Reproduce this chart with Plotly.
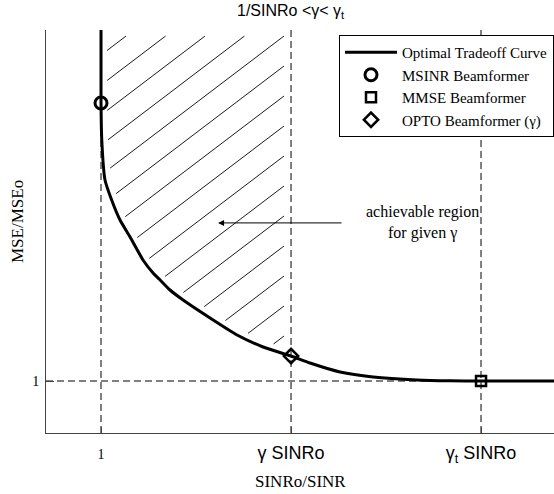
import numpy as np
import plotly.graph_objects as go

# ---------------- data ----------------
x_tick_vals = [1, 2, 3]
x_tick_text = ["1", "γ SINRo", "γ<sub>t</sub> SINRo"]
y_tick_vals = [1]
y_tick_text = ["1"]

# optimal tradeoff curve (SINRo/SINR, MSE/MSEo)
curve_x = [1.0, 1.0, 1.004, 1.021, 1.056, 1.10, 1.153, 1.221, 1.274, 1.311, 1.363,
           1.432, 1.574, 1.716, 1.853, 2.0, 2.10, 2.258, 2.432, 2.663, 2.837, 3.0, 3.40]
curve_y = [7.9, 6.346, 5.635, 4.865, 4.481, 4.096, 3.769, 3.327, 3.077, 2.942, 2.75,
           2.558, 2.212, 1.885, 1.654, 1.48, 1.346, 1.173, 1.077, 1.019, 1.003, 1.0, 1.0]

msinr_x, msinr_y = [1.0], [6.346]
mmse_x, mmse_y = [3.0], [1.0]
opto_x, opto_y = [2.0], [1.48]

# ---------------- layout geometry ----------------
W, H = 554, 494
ML, MR, MT, MB = 46, 0, 30, 61
X0, X1 = 0.7105, 3.384
Y0, Y1 = 0.0, 7.75
PW, PH = W - ML - MR, H - MT - MB
sx = PW / (X1 - X0)
sy = PH / (Y1 - Y0)

def to_px(x, y):
    return (np.asarray(x) - X0) * sx, (Y1 - np.asarray(y)) * sy

def to_data(px, py):
    return np.asarray(px) / sx + X0, Y1 - np.asarray(py) / sy

# dense curve for hatch clipping
seg_x, seg_y = [], []
for i in range(len(curve_x) - 1):
    t = np.linspace(0, 1, 200, endpoint=False)
    seg_x.append(curve_x[i] + t * (curve_x[i + 1] - curve_x[i]))
    seg_y.append(curve_y[i] + t * (curve_y[i + 1] - curve_y[i]))
dcx = np.concatenate(seg_x)
dcy = np.concatenate(seg_y)
dpx, dpy = to_px(dcx, dcy)

# hatch lines: region right of the curve, left of gamma*SINRo, below the top
slope = 0.76
spacing = 30.0
gap = 6.0
right_px = to_px(opto_x[0], 0)[0] - 7
top_px = 6.0
c0 = top_px + slope * right_px
fx = np.array(curve_x[1:])
fy = np.array(curve_y[1:])
hx, hy = [], []
for k in range(-8, 12):
    c = c0 + k * spacing
    px = np.linspace(0, right_px, 1500)
    py = c - slope * px
    xd, yd = to_data(px, py)
    inside = (py >= top_px) & (xd > 1.0) & (yd > np.interp(xd, fx, fy))
    if not inside.any():
        continue
    d = np.min(np.hypot(px[:, None] - dpx[None, ::4], py[:, None] - dpy[None, ::4]), axis=1)
    keep = inside & (d >= gap)
    if keep.sum() < 3:
        continue
    idx = np.where(keep)[0]
    a, b = idx[0], idx[-1]
    xa, ya = to_data(px[a], py[a])
    xb, yb = to_data(px[b], py[b])
    hx += [float(xa), float(xb), None]
    hy += [float(ya), float(yb), None]

SERIF = "Liberation Serif"
SANS = "Liberation Sans"
dash = "7px,4px"

fig = go.Figure()
# hatch
fig.add_trace(go.Scatter(x=hx, y=hy, mode="lines", line=dict(color="black", width=0.9),
                         showlegend=False, hoverinfo="skip"))
# dashed guide lines
fig.add_trace(go.Scatter(x=[msinr_x[0], msinr_x[0]], y=[Y0, msinr_y[0]], mode="lines",
                         line=dict(color="black", width=1, dash=dash), showlegend=False))
fig.add_trace(go.Scatter(x=[opto_x[0], opto_x[0]], y=[Y0, Y1], mode="lines",
                         line=dict(color="black", width=1, dash=dash), showlegend=False))
fig.add_trace(go.Scatter(x=[mmse_x[0], mmse_x[0]], y=[Y0, Y1], mode="lines",
                         line=dict(color="black", width=1, dash=dash), showlegend=False))
fig.add_trace(go.Scatter(x=[X0, mmse_x[0]], y=[mmse_y[0], mmse_y[0]], mode="lines",
                         line=dict(color="black", width=1, dash=dash), showlegend=False))
# curve
fig.add_trace(go.Scatter(x=curve_x, y=curve_y, mode="lines", name="Optimal Tradeoff Curve",
                         line=dict(color="black", width=3, shape="spline", smoothing=0.5)))
fig.add_trace(go.Scatter(x=msinr_x, y=msinr_y, mode="markers", name="MSINR Beamformer",
                         marker=dict(symbol="circle-open", size=12, color="black",
                                     line=dict(width=3, color="black"))))
fig.add_trace(go.Scatter(x=mmse_x, y=mmse_y, mode="markers", name="MMSE Beamformer",
                         marker=dict(symbol="square-open", size=10, color="black",
                                     line=dict(width=2.5, color="black"))))
fig.add_trace(go.Scatter(x=opto_x, y=opto_y, mode="markers", name="OPTO Beamformer (γ)",
                         marker=dict(symbol="diamond-open", size=11, color="black",
                                     line=dict(width=2.5, color="black"))))

# arrow + text
fig.add_annotation(x=1.616, y=4.04, ax=2.274, ay=4.04, xref="x", yref="y", axref="x", ayref="y",
                   text="", showarrow=True, arrowhead=2, arrowsize=1.2, arrowwidth=1, arrowcolor="black")
fig.add_annotation(x=2.69, y=4.04, xref="x", yref="y", showarrow=False,
                   text="achievable region<br>for given γ", align="center",
                   font=dict(family=SERIF, size=16, color="black"))
# title
fig.add_annotation(x=(291 - ML) / PW, y=1 + (MT - 11) / PH, xref="paper", yref="paper", showarrow=False,
                   xanchor="center", yanchor="middle",
                   text="1/SINRo &lt;γ&lt; γ<sub>t</sub>", font=dict(family=SANS, size=16, color="black"))
# axis titles
fig.add_annotation(x=(300 - ML) / PW, y=-(481 - MT - PH) / PH, xref="paper", yref="paper",
                   showarrow=False, xanchor="center", yanchor="middle", text="SINRo/SINR",
                   font=dict(family=SERIF, size=17, color="black"))
fig.add_annotation(x=-(ML - 17) / PW, y=(433 - 222) / PH, xref="paper", yref="paper",
                   showarrow=False, xanchor="center", yanchor="middle", text="MSE/MSEo", textangle=-90,
                   font=dict(family=SERIF, size=17, color="black"))

fig.update_xaxes(range=[X0, X1], tickvals=x_tick_vals, automargin=False,
                 ticktext=[x_tick_text[0]] + ['<span style="font-family:%s;font-size:18px">%s</span>' % (SANS, t)
                                               for t in x_tick_text[1:]],
                 tickfont=dict(family=SERIF, size=14, color="black"),
                 showgrid=False, zeroline=False, showline=True, linecolor="#444", linewidth=1,
                 ticks="inside", ticklen=6, tickcolor="#444", ticklabelstandoff=8)
fig.update_yaxes(range=[Y0, Y1], tickvals=y_tick_vals, ticktext=y_tick_text, automargin=False,
                 tickfont=dict(family=SERIF, size=14, color="black"),
                 showgrid=False, zeroline=False, showline=True, linecolor="#444", linewidth=1,
                 ticks="inside", ticklen=8, tickcolor="#444", ticklabelstandoff=3)

fig.update_layout(
    width=W, height=H, margin=dict(l=ML, r=MR, t=MT, b=MB, autoexpand=False),
    plot_bgcolor="white", paper_bgcolor="white",
    legend=dict(x=1.0, y=1 - 5 / PH, xanchor="right", yanchor="top",
                bordercolor="black", borderwidth=1, bgcolor="white",
                font=dict(family=SERIF, size=15, color="black"),
                itemwidth=52, tracegroupgap=0),
)

fig.write_html("out.html", config={"displayModeBar": False},
               post_script="document.body.style.margin='0px';document.body.style.overflow='hidden';")
